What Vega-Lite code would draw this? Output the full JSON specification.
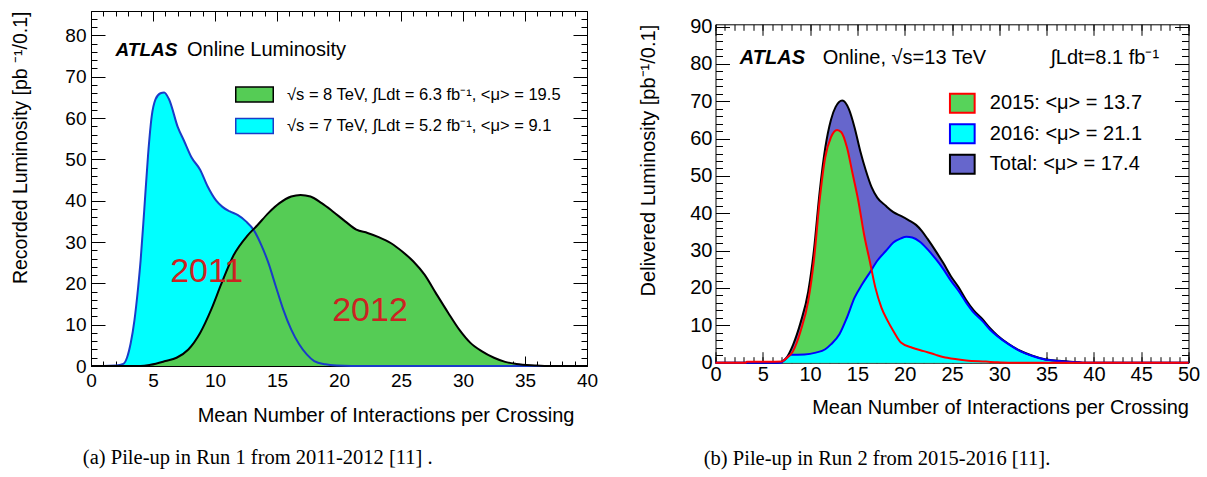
{
  "$schema": "https://vega.github.io/schema/vega-lite/v6.json",
  "background": "white",
  "padding": {"left": 10, "top": 10, "right": 0, "bottom": 0},
  "spacing": 39.5,
  "align": "none",
  "bounds": "full",
  "resolve": {"scale": {"fill": "independent", "stroke": "independent"}, "legend": {"fill": "independent", "stroke": "independent"}},
  "config": {
    "view": {"stroke": "#000000", "strokeWidth": 1},
    "axis": {"grid": false, "domain": false, "domainColor": "#000000", "domainWidth": 1, "minExtent": 0, "zindex": 1, "labelFont": "Liberation Sans", "titleFont": "Liberation Sans", "titleFontWeight": "normal", "labelColor": "#000000", "titleColor": "#000000", "tickColor": "#000000", "tickWidth": 1, "labelOverlap": false, "labelFlush": false},
    "axisX": {"minExtent": 0},
    "axisY": {"minExtent": 0},
    "legend": {"padding": 0, "labelFont": "Liberation Sans", "labelColor": "#000000", "symbolOpacity": 1, "labelLimit": 0}
  },
  "hconcat": [
    {
      "width": 496,
      "height": 355,
      "title": {"text": "(a) Pile-up in Run 1 from 2011-2012 [11] .", "orient": "bottom", "anchor": "start", "frame": "bounds", "dx": 72, "offset": 23, "font": "Liberation Serif", "fontSize": 20.5, "fontWeight": "normal", "color": "#000000"},
      "data": {"values": [
        {"mu": 0, "L": 0, "s": "2011"}, {"mu": 1, "L": 0, "s": "2011"}, {"mu": 2, "L": 0.1, "s": "2011"}, {"mu": 2.6, "L": 0.5, "s": "2011"}, {"mu": 2.9, "L": 2, "s": "2011"}, {"mu": 3.2, "L": 5.5, "s": "2011"}, {"mu": 3.5, "L": 11, "s": "2011"}, {"mu": 3.8, "L": 19, "s": "2011"}, {"mu": 4.0, "L": 25.5, "s": "2011"}, {"mu": 4.3, "L": 38, "s": "2011"}, {"mu": 4.6, "L": 51, "s": "2011"}, {"mu": 4.9, "L": 60.5, "s": "2011"}, {"mu": 5.2, "L": 64.5, "s": "2011"}, {"mu": 5.6, "L": 66, "s": "2011"}, {"mu": 5.9, "L": 66.2, "s": "2011"}, {"mu": 6.3, "L": 64.5, "s": "2011"}, {"mu": 7.0, "L": 57.8, "s": "2011"}, {"mu": 7.5, "L": 54.5, "s": "2011"}, {"mu": 8.1, "L": 50.5, "s": "2011"}, {"mu": 8.8, "L": 47.5, "s": "2011"}, {"mu": 9.4, "L": 43.5, "s": "2011"}, {"mu": 10.1, "L": 40, "s": "2011"}, {"mu": 10.6, "L": 38.5, "s": "2011"}, {"mu": 11.2, "L": 37.4, "s": "2011"}, {"mu": 11.85, "L": 36.5, "s": "2011"}, {"mu": 12.5, "L": 35, "s": "2011"}, {"mu": 13.1, "L": 33, "s": "2011"}, {"mu": 13.7, "L": 29.5, "s": "2011"}, {"mu": 14.3, "L": 25, "s": "2011"}, {"mu": 14.9, "L": 19.3, "s": "2011"}, {"mu": 15.5, "L": 13.7, "s": "2011"}, {"mu": 16.15, "L": 8.8, "s": "2011"}, {"mu": 16.8, "L": 5.2, "s": "2011"}, {"mu": 17.4, "L": 2.8, "s": "2011"}, {"mu": 18, "L": 1.2, "s": "2011"}, {"mu": 18.9, "L": 0.4, "s": "2011"}, {"mu": 19.8, "L": 0.1, "s": "2011"}, {"mu": 21, "L": 0, "s": "2011"}, {"mu": 40, "L": 0, "s": "2011"},
        {"mu": 0, "L": 0, "s": "2012"}, {"mu": 4, "L": 0, "s": "2012"}, {"mu": 4.8, "L": 0.3, "s": "2012"}, {"mu": 6, "L": 1.2, "s": "2012"}, {"mu": 6.9, "L": 2, "s": "2012"}, {"mu": 7.85, "L": 4, "s": "2012"}, {"mu": 8.8, "L": 8, "s": "2012"}, {"mu": 9.7, "L": 13.7, "s": "2012"}, {"mu": 10.5, "L": 19.8, "s": "2012"}, {"mu": 11.5, "L": 26.8, "s": "2012"}, {"mu": 12.6, "L": 31.5, "s": "2012"}, {"mu": 13.4, "L": 34, "s": "2012"}, {"mu": 14.3, "L": 37, "s": "2012"}, {"mu": 15.2, "L": 39.4, "s": "2012"}, {"mu": 16.15, "L": 41, "s": "2012"}, {"mu": 16.9, "L": 41.4, "s": "2012"}, {"mu": 17.7, "L": 41, "s": "2012"}, {"mu": 18.6, "L": 39.4, "s": "2012"}, {"mu": 19.5, "L": 37.4, "s": "2012"}, {"mu": 20.5, "L": 35, "s": "2012"}, {"mu": 21.4, "L": 33, "s": "2012"}, {"mu": 22.3, "L": 32.2, "s": "2012"}, {"mu": 23.2, "L": 31.2, "s": "2012"}, {"mu": 24.2, "L": 29.7, "s": "2012"}, {"mu": 25.1, "L": 27.7, "s": "2012"}, {"mu": 26, "L": 25.3, "s": "2012"}, {"mu": 26.9, "L": 22.1, "s": "2012"}, {"mu": 27.8, "L": 17.7, "s": "2012"}, {"mu": 28.8, "L": 12.9, "s": "2012"}, {"mu": 29.7, "L": 8.8, "s": "2012"}, {"mu": 30.6, "L": 5.6, "s": "2012"}, {"mu": 31.5, "L": 3.6, "s": "2012"}, {"mu": 32.5, "L": 2, "s": "2012"}, {"mu": 33.4, "L": 1, "s": "2012"}, {"mu": 34.3, "L": 0.5, "s": "2012"}, {"mu": 35.8, "L": 0.15, "s": "2012"}, {"mu": 37, "L": 0, "s": "2012"}, {"mu": 40, "L": 0, "s": "2012"}
      ]},
      "resolve": {"axis": {"x": "independent", "y": "independent"}},
      "layer": [
        {
          "transform": [{"filter": "datum.s == '2011'"}],
          "mark": {"type": "area", "interpolate": "monotone"},
          "encoding": {
            "x": {"field": "mu", "type": "quantitative", "scale": {"domain": [0, 40], "nice": false, "zero": false},
              "axis": {"orient": "bottom", "values": [0, 5, 10, 15, 20, 25, 30, 35, 40], "ticks": false, "labelFontSize": 19, "labelPadding": 5, "title": "Mean Number of Interactions per Crossing", "titleFontSize": 20, "titlePadding": 15, "titleAlign": "right", "titleAnchor": "end", "titleX": 483}},
            "y": {"field": "L", "type": "quantitative", "stack": null, "scale": {"domain": [0, 85.9], "nice": false},
              "axis": {"orient": "left", "values": [0, 10, 20, 30, 40, 50, 60, 70, 80], "ticks": false, "labelFontSize": 19, "labelPadding": 5, "title": "Recorded Luminosity [pb ⁻¹/0.1]", "titleFontSize": 19.5, "titlePadding": 34, "titleAnchor": "end"}},
            "fill": {"field": "s", "type": "nominal", "scale": {"domain": ["2012", "2011"], "range": ["#55cc55", "#00ffff"]},
              "legend": {"orient": "none", "legendX": 155, "legendY": 75, "title": null, "symbolType": "M-2.5,-1H2.5V1H-2.5Z", "symbolSize": 225, "symbolStrokeWidth": 1.5, "labelFontSize": 16.5, "labelOffset": 24, "rowPadding": 10.5,
                "labelExpr": "datum.label == '2012' ? '√s = 8 TeV, ∫Ldt = 6.3 fb⁻¹, <μ> = 19.5' : '√s = 7 TeV, ∫Ldt = 5.2 fb⁻¹, <μ> =  9.1'",
                "encode": {"symbols": {"update": {"stroke": {"signal": "datum.value == '2012' ? '#000000' : '#1a3cc8'"}, "strokeWidth": {"value": 1.5}}}}}}
          }
        },
        {
          "transform": [{"filter": "datum.s == '2012'"}],
          "mark": {"type": "area", "interpolate": "monotone"},
          "encoding": {
            "x": {"field": "mu", "type": "quantitative", "scale": {"domain": [0, 40], "nice": false, "zero": false}, "axis": null},
            "y": {"field": "L", "type": "quantitative", "stack": null, "scale": {"domain": [0, 85.9], "nice": false}, "axis": null},
            "fill": {"field": "s", "type": "nominal", "scale": {"domain": ["2012", "2011"], "range": ["#55cc55", "#00ffff"]}, "legend": null}
          }
        },
        {
          "mark": {"type": "line", "interpolate": "monotone", "strokeWidth": 2},
          "encoding": {
            "x": {"field": "mu", "type": "quantitative", "scale": {"domain": [0, 40], "nice": false, "zero": false},
              "axis": {"orient": "bottom", "values": [0, 5, 10, 15, 20, 25, 30, 35, 40], "labels": false, "ticks": true, "tickSize": 10, "offset": -10, "title": null}},
            "y": {"field": "L", "type": "quantitative", "stack": null, "scale": {"domain": [0, 85.9], "nice": false},
              "axis": {"orient": "left", "values": [0, 10, 20, 30, 40, 50, 60, 70, 80], "labels": false, "ticks": true, "tickSize": 14, "offset": -14, "title": null}},
            "stroke": {"field": "s", "type": "nominal", "scale": {"domain": ["2012", "2011"], "range": ["#000000", "#1a3cc8"]}, "legend": null}
          }
        },
        {
          "data": {"values": [{"mu": 1.98, "L": 76.5, "t": "ATLAS"}]},
          "mark": {"type": "text", "align": "left", "baseline": "middle", "font": "Liberation Sans", "fontSize": 19, "fontWeight": "bold", "fontStyle": "italic", "color": "#000000"},
          "encoding": {
            "x": {"field": "mu", "type": "quantitative", "scale": {"domain": [0, 40], "nice": false, "zero": false},
              "axis": {"orient": "top", "values": [0, 5, 10, 15, 20, 25, 30, 35, 40], "labels": false, "ticks": true, "tickSize": 10, "offset": -10, "title": null}},
            "y": {"field": "L", "type": "quantitative", "scale": {"domain": [0, 85.9], "nice": false},
              "axis": {"orient": "right", "values": [0, 10, 20, 30, 40, 50, 60, 70, 80], "labels": false, "ticks": true, "tickSize": 14, "offset": -14, "title": null}},
            "text": {"field": "t"}
          }
        },
        {
          "data": {"values": [{"mu": 7.74, "L": 76.5, "t": "Online Luminosity"}]},
          "mark": {"type": "text", "align": "left", "baseline": "middle", "font": "Liberation Sans", "fontSize": 20, "color": "#000000"},
          "encoding": {
            "x": {"field": "mu", "type": "quantitative", "scale": {"domain": [0, 40], "nice": false, "zero": false},
              "axis": {"orient": "bottom", "values": [0, 1, 2, 3, 4, 5, 6, 7, 8, 9, 10, 11, 12, 13, 14, 15, 16, 17, 18, 19, 20, 21, 22, 23, 24, 25, 26, 27, 28, 29, 30, 31, 32, 33, 34, 35, 36, 37, 38, 39, 40], "labels": false, "ticks": true, "tickSize": 5, "offset": -5, "title": null}},
            "y": {"field": "L", "type": "quantitative", "scale": {"domain": [0, 85.9], "nice": false},
              "axis": {"orient": "left", "values": [0, 2, 4, 6, 8, 10, 12, 14, 16, 18, 20, 22, 24, 26, 28, 30, 32, 34, 36, 38, 40, 42, 44, 46, 48, 50, 52, 54, 56, 58, 60, 62, 64, 66, 68, 70, 72, 74, 76, 78, 80, 82, 84], "labels": false, "ticks": true, "tickSize": 6, "offset": -6, "title": null}},
            "text": {"field": "t"}
          }
        },
        {
          "data": {"values": [{"mu": 9.33, "L": 22.75, "t": "2011"}, {"mu": 22.5, "L": 13.3, "t": "2012"}]},
          "mark": {"type": "text", "align": "center", "baseline": "middle", "font": "Liberation Sans", "fontSize": 34, "color": "#cc2222"},
          "encoding": {
            "x": {"field": "mu", "type": "quantitative", "scale": {"domain": [0, 40], "nice": false, "zero": false},
              "axis": {"orient": "top", "values": [0, 1, 2, 3, 4, 5, 6, 7, 8, 9, 10, 11, 12, 13, 14, 15, 16, 17, 18, 19, 20, 21, 22, 23, 24, 25, 26, 27, 28, 29, 30, 31, 32, 33, 34, 35, 36, 37, 38, 39, 40], "labels": false, "ticks": true, "tickSize": 5, "offset": -5, "title": null}},
            "y": {"field": "L", "type": "quantitative", "scale": {"domain": [0, 85.9], "nice": false},
              "axis": {"orient": "right", "values": [0, 2, 4, 6, 8, 10, 12, 14, 16, 18, 20, 22, 24, 26, 28, 30, 32, 34, 36, 38, 40, 42, 44, 46, 48, 50, 52, 54, 56, 58, 60, 62, 64, 66, 68, 70, 72, 74, 76, 78, 80, 82, 84], "labels": false, "ticks": true, "tickSize": 6, "offset": -6, "title": null}},
            "text": {"field": "t"}
          }
        }
      ]
    },
    {
      "width": 473,
      "height": 351.7,
      "view": {"stroke": null},
      "title": {"text": "(b) Pile-up in Run 2 from 2015-2016 [11].", "orient": "bottom", "anchor": "start", "frame": "bounds", "dx": 65, "offset": 31, "font": "Liberation Serif", "fontSize": 20.5, "fontWeight": "normal", "color": "#000000"},
      "data": {"values": [
        {"mu": 0, "L": 0, "s": "Total"}, {"mu": 6.5, "L": 0, "s": "Total"}, {"mu": 7, "L": 0.3, "s": "Total"}, {"mu": 7.4, "L": 1, "s": "Total"}, {"mu": 8.2, "L": 4.8, "s": "Total"}, {"mu": 9, "L": 10.8, "s": "Total"}, {"mu": 9.8, "L": 19, "s": "Total"}, {"mu": 10.4, "L": 30, "s": "Total"}, {"mu": 11, "L": 45.5, "s": "Total"}, {"mu": 11.6, "L": 57.5, "s": "Total"}, {"mu": 12.2, "L": 65, "s": "Total"}, {"mu": 12.7, "L": 68.5, "s": "Total"}, {"mu": 13.4, "L": 70.2, "s": "Total"}, {"mu": 14.1, "L": 67.9, "s": "Total"}, {"mu": 14.7, "L": 63, "s": "Total"}, {"mu": 15.3, "L": 56.7, "s": "Total"}, {"mu": 15.9, "L": 51.4, "s": "Total"}, {"mu": 16.5, "L": 47, "s": "Total"}, {"mu": 17.1, "L": 44.2, "s": "Total"}, {"mu": 18, "L": 42, "s": "Total"}, {"mu": 18.8, "L": 40.3, "s": "Total"}, {"mu": 19.6, "L": 39.3, "s": "Total"}, {"mu": 20.4, "L": 38.2, "s": "Total"}, {"mu": 21.2, "L": 36.9, "s": "Total"}, {"mu": 21.8, "L": 35.3, "s": "Total"}, {"mu": 22.4, "L": 33.2, "s": "Total"}, {"mu": 23.3, "L": 29.8, "s": "Total"}, {"mu": 24.1, "L": 26.6, "s": "Total"}, {"mu": 24.9, "L": 23.1, "s": "Total"}, {"mu": 25.7, "L": 20.2, "s": "Total"}, {"mu": 26.5, "L": 16.8, "s": "Total"}, {"mu": 27.3, "L": 14, "s": "Total"}, {"mu": 28.2, "L": 11.7, "s": "Total"}, {"mu": 29, "L": 9.3, "s": "Total"}, {"mu": 29.8, "L": 7.3, "s": "Total"}, {"mu": 31, "L": 5, "s": "Total"}, {"mu": 32.2, "L": 3.2, "s": "Total"}, {"mu": 33.5, "L": 1.9, "s": "Total"}, {"mu": 34.7, "L": 1, "s": "Total"}, {"mu": 36.3, "L": 0.5, "s": "Total"}, {"mu": 38.4, "L": 0.1, "s": "Total"}, {"mu": 39, "L": 0, "s": "Total"}, {"mu": 50, "L": 0, "s": "Total"},
        {"mu": 0, "L": 0, "s": "2016"}, {"mu": 6.9, "L": 0, "s": "2016"}, {"mu": 7.35, "L": 0.9, "s": "2016"}, {"mu": 8, "L": 2.1, "s": "2016"}, {"mu": 9.4, "L": 2.2, "s": "2016"}, {"mu": 10.6, "L": 2.7, "s": "2016"}, {"mu": 11.6, "L": 3.6, "s": "2016"}, {"mu": 12.2, "L": 4.9, "s": "2016"}, {"mu": 13.1, "L": 7.6, "s": "2016"}, {"mu": 13.9, "L": 12.1, "s": "2016"}, {"mu": 14.7, "L": 17.4, "s": "2016"}, {"mu": 15.5, "L": 21, "s": "2016"}, {"mu": 16.3, "L": 24.1, "s": "2016"}, {"mu": 17.1, "L": 27.3, "s": "2016"}, {"mu": 18, "L": 29.9, "s": "2016"}, {"mu": 18.8, "L": 32.2, "s": "2016"}, {"mu": 19.6, "L": 33.3, "s": "2016"}, {"mu": 20.2, "L": 33.7, "s": "2016"}, {"mu": 20.8, "L": 33.5, "s": "2016"}, {"mu": 21.6, "L": 32.4, "s": "2016"}, {"mu": 22.4, "L": 30.4, "s": "2016"}, {"mu": 23.3, "L": 27.7, "s": "2016"}, {"mu": 24.1, "L": 25, "s": "2016"}, {"mu": 24.9, "L": 21.9, "s": "2016"}, {"mu": 25.7, "L": 19.2, "s": "2016"}, {"mu": 26.5, "L": 16.1, "s": "2016"}, {"mu": 27.3, "L": 13.4, "s": "2016"}, {"mu": 28.2, "L": 11.2, "s": "2016"}, {"mu": 29, "L": 8.9, "s": "2016"}, {"mu": 29.8, "L": 7.1, "s": "2016"}, {"mu": 31, "L": 4.9, "s": "2016"}, {"mu": 32.2, "L": 3.1, "s": "2016"}, {"mu": 33.5, "L": 1.8, "s": "2016"}, {"mu": 34.7, "L": 0.9, "s": "2016"}, {"mu": 36.3, "L": 0.45, "s": "2016"}, {"mu": 38.4, "L": 0.1, "s": "2016"}, {"mu": 39, "L": 0, "s": "2016"}, {"mu": 50, "L": 0, "s": "2016"},
        {"mu": 0, "L": 0, "s": "2015"}, {"mu": 3.2, "L": 0, "s": "2015"}, {"mu": 3.3, "L": 0.25, "s": "2015"}, {"mu": 7, "L": 0.3, "s": "2015"}, {"mu": 7.35, "L": 0.9, "s": "2015"}, {"mu": 8.2, "L": 3.1, "s": "2015"}, {"mu": 9, "L": 8.5, "s": "2015"}, {"mu": 9.8, "L": 16.5, "s": "2015"}, {"mu": 10.4, "L": 27.3, "s": "2015"}, {"mu": 11, "L": 43.3, "s": "2015"}, {"mu": 11.6, "L": 55, "s": "2015"}, {"mu": 12.2, "L": 60.3, "s": "2015"}, {"mu": 12.85, "L": 62.3, "s": "2015"}, {"mu": 13.3, "L": 61.7, "s": "2015"}, {"mu": 13.9, "L": 57.6, "s": "2015"}, {"mu": 14.5, "L": 50.5, "s": "2015"}, {"mu": 15.1, "L": 43.3, "s": "2015"}, {"mu": 15.7, "L": 34.4, "s": "2015"}, {"mu": 16.3, "L": 27.3, "s": "2015"}, {"mu": 16.9, "L": 20.1, "s": "2015"}, {"mu": 17.55, "L": 14.7, "s": "2015"}, {"mu": 18.2, "L": 11.2, "s": "2015"}, {"mu": 18.8, "L": 8.5, "s": "2015"}, {"mu": 19.6, "L": 5.4, "s": "2015"}, {"mu": 20.8, "L": 4, "s": "2015"}, {"mu": 22, "L": 3.1, "s": "2015"}, {"mu": 23.3, "L": 2.1, "s": "2015"}, {"mu": 24.5, "L": 1.3, "s": "2015"}, {"mu": 26.5, "L": 0.6, "s": "2015"}, {"mu": 28.6, "L": 0.3, "s": "2015"}, {"mu": 29.8, "L": 0.1, "s": "2015"}, {"mu": 31, "L": 0, "s": "2015"}, {"mu": 50, "L": 0, "s": "2015"}
      ]},
      "resolve": {"axis": {"x": "independent", "y": "independent"}},
      "layer": [
        {
          "transform": [{"filter": "datum.s == 'Total'"}],
          "mark": {"type": "area", "interpolate": "monotone"},
          "encoding": {
            "x": {"field": "mu", "type": "quantitative", "scale": {"domain": [0, 50], "nice": false, "zero": false},
              "axis": {"orient": "bottom", "values": [0, 5, 10, 15, 20, 25, 30, 35, 40, 45, 50], "ticks": false, "domain": true, "labelFontSize": 20, "labelPadding": 2, "title": "Mean Number of Interactions per Crossing", "titleFontSize": 20, "titlePadding": 13, "titleAnchor": "end"}},
            "y": {"field": "L", "type": "quantitative", "stack": null, "scale": {"domain": [0, 90.6], "nice": false, "range": [351.7, 13.3]},
              "axis": {"orient": "left", "values": [0, 10, 20, 30, 40, 50, 60, 70, 80, 90], "ticks": false, "domain": true, "labelFontSize": 20, "labelPadding": 3.5, "title": "Delivered Luminosity [pb⁻¹/0.1]", "titleFontSize": 20, "titlePadding": 31, "titleAnchor": "end"}},
            "fill": {"field": "s", "type": "nominal", "scale": {"domain": ["2015", "2016", "Total"], "range": ["#57d35a", "#00ffff", "#6666cc"]},
              "legend": {"orient": "none", "legendX": 236.3, "legendY": 81.7, "title": null, "symbolType": "M-1.3,-1H1.3V1H-1.3Z", "symbolSize": 361, "symbolStrokeWidth": 2, "labelFontSize": 20, "labelOffset": 17, "rowPadding": 3.5,
                "labelExpr": "datum.label == '2015' ? '2015: <μ> = 13.7' : datum.label == '2016' ? '2016: <μ> = 21.1' : 'Total: <μ> = 17.4'",
                "encode": {"symbols": {"update": {"stroke": {"signal": "datum.value == '2015' ? '#ff0000' : datum.value == '2016' ? '#0000ff' : '#000000'"}, "strokeWidth": {"value": 2}}}}}}
          }
        },
        {
          "transform": [{"filter": "datum.s == '2015'"}],
          "mark": {"type": "area", "interpolate": "monotone"},
          "encoding": {
            "x": {"field": "mu", "type": "quantitative", "scale": {"domain": [0, 50], "nice": false, "zero": false},
              "axis": {"orient": "top", "offset": -13.3, "domain": true, "ticks": false, "labels": false, "title": null}},
            "y": {"field": "L", "type": "quantitative", "stack": null, "scale": {"domain": [0, 90.6], "nice": false, "range": [351.7, 13.3]},
              "axis": {"orient": "right", "domain": true, "ticks": false, "labels": false, "title": null}},
            "fill": {"field": "s", "type": "nominal", "scale": {"domain": ["2015", "2016", "Total"], "range": ["#57d35a", "#00ffff", "#6666cc"]}, "legend": null}
          }
        },
        {
          "transform": [{"filter": "datum.s == '2016'"}],
          "mark": {"type": "area", "interpolate": "monotone"},
          "encoding": {
            "x": {"field": "mu", "type": "quantitative", "scale": {"domain": [0, 50], "nice": false, "zero": false}, "axis": null},
            "y": {"field": "L", "type": "quantitative", "stack": null, "scale": {"domain": [0, 90.6], "nice": false, "range": [351.7, 13.3]}, "axis": null},
            "fill": {"field": "s", "type": "nominal", "scale": {"domain": ["2015", "2016", "Total"], "range": ["#57d35a", "#00ffff", "#6666cc"]}, "legend": null}
          }
        },
        {
          "mark": {"type": "line", "interpolate": "monotone", "strokeWidth": 2},
          "encoding": {
            "x": {"field": "mu", "type": "quantitative", "scale": {"domain": [0, 50], "nice": false, "zero": false},
              "axis": {"orient": "bottom", "values": [0, 5, 10, 15, 20, 25, 30, 35, 40, 45, 50], "labels": false, "ticks": true, "tickSize": 11, "offset": -11, "title": null}},
            "y": {"field": "L", "type": "quantitative", "stack": null, "scale": {"domain": [0, 90.6], "nice": false, "range": [351.7, 13.3]},
              "axis": {"orient": "left", "values": [0, 10, 20, 30, 40, 50, 60, 70, 80, 90], "labels": false, "ticks": true, "tickSize": 14, "offset": -14, "title": null}},
            "stroke": {"field": "s", "type": "nominal", "scale": {"domain": ["2015", "2016", "Total"], "range": ["#ff0000", "#0000ff", "#000000"]}, "legend": null}
          }
        },
        {
          "data": {"values": [{"mu": 2.57, "L": 81.5, "t": "ATLAS"}]},
          "mark": {"type": "text", "align": "left", "baseline": "middle", "font": "Liberation Sans", "fontSize": 20, "fontWeight": "bold", "fontStyle": "italic", "color": "#000000"},
          "encoding": {
            "x": {"field": "mu", "type": "quantitative", "scale": {"domain": [0, 50], "nice": false, "zero": false},
              "axis": {"orient": "top", "values": [0, 5, 10, 15, 20, 25, 30, 35, 40, 45, 50], "labels": false, "ticks": true, "tickSize": 11, "offset": -24.3, "title": null}},
            "y": {"field": "L", "type": "quantitative", "scale": {"domain": [0, 90.6], "nice": false, "range": [351.7, 13.3]},
              "axis": {"orient": "right", "values": [0, 10, 20, 30, 40, 50, 60, 70, 80, 90], "labels": false, "ticks": true, "tickSize": 14, "offset": -14, "title": null}},
            "text": {"field": "t"}
          }
        },
        {
          "data": {"values": [{"mu": 11.33, "L": 81.5, "t": "Online, √s=13 TeV"}]},
          "mark": {"type": "text", "align": "left", "baseline": "middle", "font": "Liberation Sans", "fontSize": 20, "color": "#000000"},
          "encoding": {
            "x": {"field": "mu", "type": "quantitative", "scale": {"domain": [0, 50], "nice": false, "zero": false},
              "axis": {"orient": "bottom", "values": [0, 1, 2, 3, 4, 5, 6, 7, 8, 9, 10, 11, 12, 13, 14, 15, 16, 17, 18, 19, 20, 21, 22, 23, 24, 25, 26, 27, 28, 29, 30, 31, 32, 33, 34, 35, 36, 37, 38, 39, 40, 41, 42, 43, 44, 45, 46, 47, 48, 49, 50], "labels": false, "ticks": true, "tickSize": 6, "offset": -6, "title": null}},
            "y": {"field": "L", "type": "quantitative", "scale": {"domain": [0, 90.6], "nice": false, "range": [351.7, 13.3]},
              "axis": {"orient": "left", "values": [0, 2, 4, 6, 8, 10, 12, 14, 16, 18, 20, 22, 24, 26, 28, 30, 32, 34, 36, 38, 40, 42, 44, 46, 48, 50, 52, 54, 56, 58, 60, 62, 64, 66, 68, 70, 72, 74, 76, 78, 80, 82, 84, 86, 88, 90], "labels": false, "ticks": true, "tickSize": 7, "offset": -7, "title": null}},
            "text": {"field": "t"}
          }
        },
        {
          "data": {"values": [{"mu": 35.4, "L": 81.5, "t": "∫Ldt=8.1 fb⁻¹"}]},
          "mark": {"type": "text", "align": "left", "baseline": "middle", "font": "Liberation Sans", "fontSize": 20, "color": "#000000"},
          "encoding": {
            "x": {"field": "mu", "type": "quantitative", "scale": {"domain": [0, 50], "nice": false, "zero": false},
              "axis": {"orient": "top", "values": [0, 1, 2, 3, 4, 5, 6, 7, 8, 9, 10, 11, 12, 13, 14, 15, 16, 17, 18, 19, 20, 21, 22, 23, 24, 25, 26, 27, 28, 29, 30, 31, 32, 33, 34, 35, 36, 37, 38, 39, 40, 41, 42, 43, 44, 45, 46, 47, 48, 49, 50], "labels": false, "ticks": true, "tickSize": 6, "offset": -19.3, "title": null}},
            "y": {"field": "L", "type": "quantitative", "scale": {"domain": [0, 90.6], "nice": false, "range": [351.7, 13.3]},
              "axis": {"orient": "right", "values": [0, 2, 4, 6, 8, 10, 12, 14, 16, 18, 20, 22, 24, 26, 28, 30, 32, 34, 36, 38, 40, 42, 44, 46, 48, 50, 52, 54, 56, 58, 60, 62, 64, 66, 68, 70, 72, 74, 76, 78, 80, 82, 84, 86, 88, 90], "labels": false, "ticks": true, "tickSize": 7, "offset": -7, "title": null}},
            "text": {"field": "t"}
          }
        }
      ]
    }
  ]
}
